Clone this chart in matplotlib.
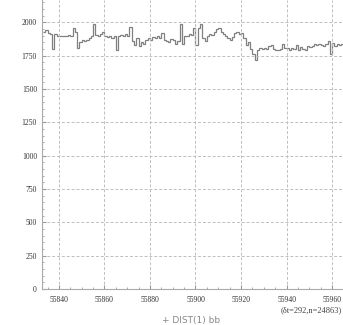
import numpy as np
import matplotlib
matplotlib.use("Agg")
import matplotlib.pyplot as plt
from matplotlib.ticker import MultipleLocator

# bin start (data units) and counts per bin
x_start = 55833
counts = [
    1930, 1940, 1920, 1915, 1800, 1910, 1900, 1895, 1900, 1900,
    1895, 1905, 1900, 1955, 1930, 1810, 1850, 1865, 1860, 1870,
    1880, 1900, 1985, 1905, 1895, 1910, 1925, 1900, 1890, 1895,
    1880, 1900, 1790, 1900, 1905, 1900, 1910, 1895, 1965, 1860,
    1830, 1880, 1820, 1850, 1835, 1870, 1880, 1870, 1890, 1880,
    1895, 1880, 1920, 1870, 1860, 1855, 1875, 1870, 1840, 1860,
    1985, 1840, 1900, 1895, 1910, 1905, 1960, 1830, 1960, 1990,
    1880, 1860, 1900, 1910, 1905, 1925, 1950, 1960, 1930, 1910,
    1895, 1880, 1870, 1890, 1920, 1925, 1915, 1920, 1880, 1830,
    1850, 1800, 1760, 1720, 1790, 1810, 1800, 1805, 1800, 1820,
    1830, 1800, 1790, 1795, 1800, 1840, 1805, 1810, 1790, 1805,
    1800, 1830, 1790, 1815, 1800, 1790, 1820, 1815, 1825, 1835,
    1830, 1840, 1830, 1820, 1835, 1860, 1760, 1845, 1820, 1840,
    1830, 1840,
]
x_ticks = [55840, 55860, 55880, 55900, 55920, 55940, 55960]
y_ticks = [0, 250, 500, 750, 1000, 1250, 1500, 1750, 2000]
x_label = "+ DIST(1) bb"
note = "(\u03b4t=292,n=24863)"

edges = x_start + np.arange(len(counts) + 1)

fig = plt.figure(figsize=(3.43, 3.25), dpi=100)
ax = fig.add_axes([0.122, 0.111, 0.878, 0.889])

ax.stairs(counts, edges, baseline=None, color="#808080", linewidth=0.9)

ax.set_xlim(55832.5, 55964.8)
ax.set_ylim(0, 2167)
ax.set_xticks(x_ticks)
ax.set_yticks(y_ticks)
ax.xaxis.set_minor_locator(MultipleLocator(5))
ax.yaxis.set_minor_locator(MultipleLocator(50))
ax.tick_params(which="both", direction="in", colors="#999999", labelcolor="#333333",
               labelsize=5.5)
ax.tick_params(which="major", length=3)
ax.tick_params(which="minor", length=1.5)
ax.tick_params(axis="x", pad=5)
ax.grid(True, which="major", linestyle=(0, (3, 2)), color="#bebebe", linewidth=0.7)

for s in ["top", "right"]:
    ax.spines[s].set_visible(False)
for s in ["left", "bottom"]:
    ax.spines[s].set_color("#aaaaaa")
    ax.spines[s].set_linewidth(0.8)

for lbl in ax.get_xticklabels() + ax.get_yticklabels():
    lbl.set_family("Liberation Serif")

fig.text(0.556, 0.0, x_label, fontsize=6.5, color="#888888", ha="center", va="bottom")
fig.text(0.998, 0.045, note, fontsize=6, color="#444444", ha="right", va="center",
         family="Liberation Serif")

fig.savefig("out.png", dpi=100)
